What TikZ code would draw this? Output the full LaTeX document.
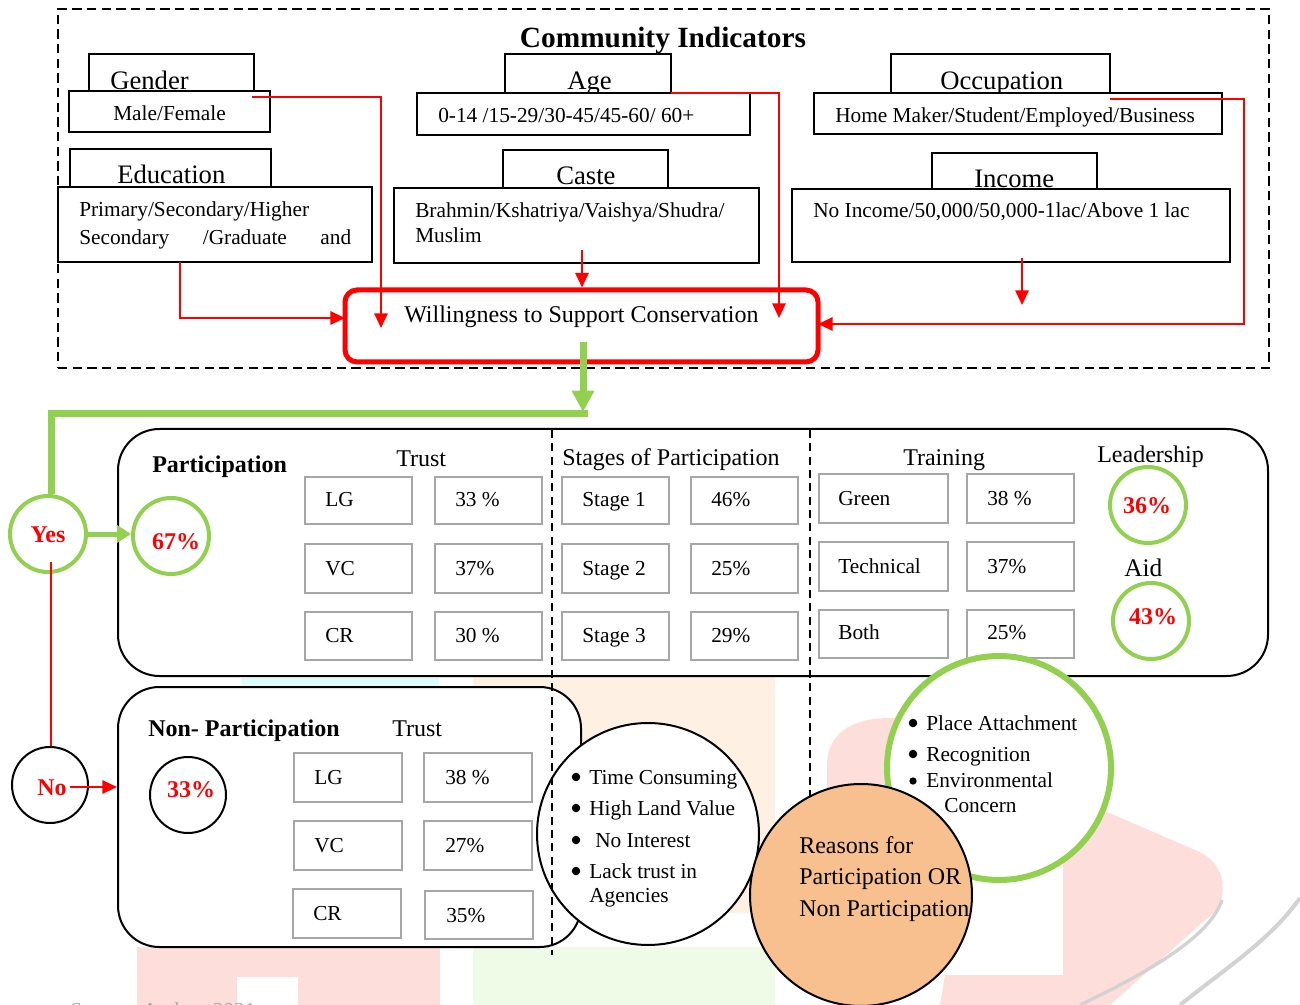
\documentclass[tikz,border=0pt]{standalone}
\usepackage{fontspec}
\setmainfont{Liberation Serif}
\usetikzlibrary{arrows.meta,fit}
\definecolor{lgreen}{HTML}{92D050}
\definecolor{boxgrey}{HTML}{A6A6A6}
\definecolor{orng}{HTML}{F8BF8F}
\definecolor{wmpink}{HTML}{FDDEDA}
\definecolor{wmpeach}{HTML}{FEF0E2}
\definecolor{wmgreen}{HTML}{EFFAE7}
\definecolor{wmcyan}{HTML}{DDFCFC}
\definecolor{wmgrey}{HTML}{D2D2D2}
\tikzset{
  fbox/.style={draw=black, line width=1.5pt, fill=white, inner sep=0pt},
  gbox/.style={draw=boxgrey, line width=1.8pt, fill=white, inner sep=0pt},
  panel/.style={draw=black, line width=1.5pt, fill=white, inner sep=0pt, rounded corners=31pt},
  txt/.style={inner sep=0pt, anchor=base west},
  ctxt/.style={inner sep=0pt, anchor=base},
  f16/.style={font=\fontsize{16}{19}\selectfont},
  f18/.style={font=\fontsize{18}{21}\selectfont},
  f20/.style={font=\fontsize{20}{24}\selectfont},
  bf18/.style={font=\bfseries\fontsize{18}{21}\selectfont},
  redbf/.style={font=\bfseries\fontsize{18}{21}\selectfont, text=red},
  redarrow/.style={draw=red, line width=1.5pt, -{Triangle[length=11pt,width=10pt]}},
  redline/.style={draw=red, line width=1.5pt},
  grline/.style={draw=lgreen, line width=5.25pt},
  grcirc/.style={circle, draw=lgreen, line width=3pt, fill=white, minimum size=57pt, inner sep=0pt},
  bkcirc/.style={circle, draw=black, line width=1.5pt, fill=white, minimum size=57pt, inner sep=0pt},
  divider/.style={draw=black, line width=1.3pt, dash pattern=on 6pt off 4pt},
  blt/.style={circle, fill=black, minimum size=6.4pt, inner sep=0pt},
}
\begin{document}
\begin{tikzpicture}[x=0.75pt,y=-0.75pt]
\useasboundingbox (0,0) rectangle (1300,1005);
\clip (0,0) rectangle (1300,1005);
% ---------- faint watermark ----------
\fill[wmcyan] (241,678) rectangle (439,700);
\fill[wmpeach] (473,677) rectangle (775,913);
\fill[wmpink] (137,947) rectangle (440,1005);
\fill[white] (237,977) rectangle (298,1005);
\fill[wmgreen] (473,947) rectangle (775,1005);
\fill[wmpink] (827,1005) -- (827,765) .. controls (827,735) and (850,718) .. (890,718) -- (955,718) -- (955,880) -- (900,880) -- cycle;
\fill[wmpink] (1063,840) -- (1107,812) -- (1195,850) .. controls (1228,862) and (1232,902) .. (1205,920) -- (1110,1005) -- (940,1005) -- (945,975) -- (1063,975) -- cycle;
\draw[wmgrey, line width=2.5pt] (1222,900) .. controls (1212,930) and (1170,962) .. (1080,1005);
\draw[wmgrey, line width=3pt] (1300,898) .. controls (1270,940) and (1230,965) .. (1180,1005);
\node[anchor=north west, inner sep=0pt, f16, text=gray!70] (src) at (70,1002) {Source: Author, 2021};

% ---------- community indicators ----------
\node[draw=black, line width=1.5pt, dash pattern=on 7pt off 4pt, inner sep=0pt, fit={(58,9) (1269,368)}] (outer) {};
\node[ctxt, font=\bfseries\fontsize{22}{26}\selectfont] (title) at (663,48) {Community Indicators};

\node[fbox, fit={(89,54) (254,92)}] (genh) {};
\node[txt, f20] (gent) at (110,90) {Gender};
\node[fbox, fit={(69,91) (270,132)}] (genv) {};
\node[txt, f16] (genvt) at (113,121) {Male/Female};

\node[fbox, fit={(70,149) (271,187)}] (eduh) {};
\node[txt, f20] (edut) at (117,184) {Education};
\node[fbox, fit={(58,187) (372,262)}] (eduv) {};
\node[txt, f16] (eduv1) at (79,217) {Primary/Secondary/Higher};
\node[txt, f16] (eduv2) at (79,245) {\hbox to 204pt{Secondary\hfill/Graduate\hfill and}};

\node[fbox, fit={(505,54) (671,93)}] (ageh) {};
\node[txt, f20] (aget) at (567,90) {Age};
\node[fbox, fit={(417,93) (750,135)}] (agev) {};
\node[txt, f16] (agevt) at (438,123) {0-14 /15-29/30-45/45-60/ 60+};

\node[fbox, fit={(503,150) (668,188)}] (casth) {};
\node[txt, f20] (castt) at (556,185) {Caste};
\node[fbox, fit={(394,188) (759,263)}] (castv) {};
\node[txt, f16] (castv1) at (415,218) {Brahmin/Kshatriya/Vaishya/Shudra/};
\node[txt, f16] (castv2) at (415,243) {Muslim};

\node[fbox, fit={(891,54) (1110,93)}] (occh) {};
\node[txt, f20] (occt) at (940,90) {Occupation};
\node[fbox, fit={(814,93) (1222,134)}] (occv) {};
\node[txt, f16] (occvt) at (835,123) {Home Maker/Student/Employed/Business};

\node[fbox, fit={(932,153) (1097,189)}] (inch) {};
\node[txt, f20] (inct) at (974,188) {Income};
\node[fbox, fit={(792,189) (1230,262)}] (incv) {};
\node[txt, f16] (incvt) at (813,218) {No Income/50,000/50,000-1lac/Above 1 lac};

\node[draw=red, line width=3.75pt, fill=white, rounded corners=9pt, inner sep=0pt, fit={(345,290) (818,362)}] (wsc) {};
\node[txt, f18] (wsct) at (404,323) {Willingness to Support Conservation};

% red connectors
\coordinate (gA) at (252,97);   \coordinate (gB) at (381,328);
\draw[redarrow] (gA) -| (gB);
\coordinate (eA) at (180,262);  \coordinate (eB) at (345,318);
\draw[redarrow] (eA) |- (eB);
\coordinate (cA) at (582,250);
\draw[redarrow] (cA) -- (cA |- wsc.north);
\coordinate (aA) at (671,93);   \coordinate (aB) at (779,318);
\draw[redarrow] (aA) -| (aB);
\coordinate (iA) at (1022,258); \coordinate (iB) at (1022,305);
\draw[redarrow] (iA) -- (iB);
\coordinate (oA) at (1110,99);  \coordinate (oB) at (1244,324); \coordinate (oC) at (818,324);
\draw[redarrow] (oA) -| (oB) -- (oC);

% green flow
\coordinate (gr1) at (583,342); \coordinate (gr2) at (583,412);
\coordinate (gr3) at (588,414); \coordinate (gr4) at (51,414);
\draw[grline, -{Triangle[length=16pt,width=16pt]}] (gr1) -- (gr2);

% ---------- participation panel ----------
\node[panel, fit={(118,429) (1268,676)}] (ppanel) {};
\node[panel, fit={(118,687) (581,947)}] (npanel) {};

\node[grcirc] (yes) at (48,534) {};
\draw[grline, line join=miter] (gr3) -- (gr4) -- (gr4 |- yes.north);
\node[ctxt, redbf] (yest) at (48,542) {Yes};
\node[grcirc] (p67) at (171,536) {};
\node[ctxt, redbf] (p67t) at (176,549) {67\%};
\draw[draw=lgreen, line width=3.75pt, -{Triangle[length=10.5pt,width=12.75pt]}] (yes.east) -- (yes.east -| p67.west);

\coordinate (yr) at (51,562);
\node[bkcirc] (no) at (50,785) {};
\draw[redline] (yr) -- (yr |- no.north);
\node[ctxt, redbf] (not) at (52,795) {No};
\coordinate (nA) at (70,787);
\draw[redarrow] (nA) -- (nA -| npanel.west);
\node[bkcirc] (n33) at (188,795) {};
\node[ctxt, redbf] (n33t) at (191,797) {33\%};

\node[txt, bf18] (partt) at (152,473) {Participation};
\node[txt, f18] (trust1) at (396,467) {Trust};
\node[txt, f18] (stagest) at (562,465) {Stages of Participation};
\node[txt, f18] (traint) at (903,465) {Training};
\node[txt, f18] (leadt) at (1097,463) {Leadership};
\node[txt, font=\fontsize{19}{22}\selectfont] (aidt) at (1124,576) {Aid};
\node[grcirc] (lead) at (1148,505) {};
\node[ctxt, redbf] (leadv) at (1147,513) {36\%};
\node[grcirc] (aid) at (1151,621) {};
\node[ctxt, redbf] (aidv) at (1153,624) {43\%};

% trust (participation)
\node[gbox, fit={(305,477) (412,524)}] (plg) {};   \node[txt, f16] (plgt) at (325,507) {LG};
\node[gbox, fit={(435,477) (542,524)}] (plgv) {};  \node[txt, f16] (plgvt) at (455,507) {33 \%};
\node[gbox, fit={(305,544) (412,593)}] (pvc) {};   \node[txt, f16] (pvct) at (325,575) {VC};
\node[gbox, fit={(435,544) (542,593)}] (pvcv) {};  \node[txt, f16] (pvcvt) at (455,575) {37\%};
\node[gbox, fit={(305,612) (412,660)}] (pcr) {};   \node[txt, f16] (pcrt) at (325,642) {CR};
\node[gbox, fit={(435,612) (542,660)}] (pcrv) {};  \node[txt, f16] (pcrvt) at (455,642) {30 \%};
% stages
\node[gbox, fit={(562,477) (669,524)}] (s1) {};   \node[txt, f16] (s1t) at (582,507) {Stage 1};
\node[gbox, fit={(691,477) (798,524)}] (s1v) {};  \node[txt, f16] (s1vt) at (711,507) {46\%};
\node[gbox, fit={(562,544) (669,593)}] (s2) {};   \node[txt, f16] (s2t) at (582,575) {Stage 2};
\node[gbox, fit={(691,544) (798,593)}] (s2v) {};  \node[txt, f16] (s2vt) at (711,575) {25\%};
\node[gbox, fit={(562,612) (669,660)}] (s3) {};   \node[txt, f16] (s3t) at (582,642) {Stage 3};
\node[gbox, fit={(691,612) (798,660)}] (s3v) {};  \node[txt, f16] (s3vt) at (711,642) {29\%};
% training
\node[gbox, fit={(819,474) (948,523)}] (tg) {};   \node[txt, f16] (tgt) at (838,505) {Green};
\node[gbox, fit={(967,474) (1074,523)}] (tgv) {}; \node[txt, f16] (tgvt) at (987,505) {38 \%};
\node[gbox, fit={(819,542) (948,591)}] (tt) {};   \node[txt, f16] (ttt) at (838,573) {Technical};
\node[gbox, fit={(967,542) (1074,591)}] (ttv) {}; \node[txt, f16] (ttvt) at (987,573) {37\%};
\node[gbox, fit={(819,610) (948,658)}] (tb) {};   \node[txt, f16] (tbt) at (838,639) {Both};
\node[gbox, fit={(967,610) (1074,658)}] (tbv) {}; \node[txt, f16] (tbvt) at (987,639) {25\%};

% ---------- non participation ----------
\node[txt, bf18] (nppt) at (148,736) {Non- Participation};
\node[txt, f18] (trust2) at (392,736) {Trust};
\node[gbox, fit={(294,753) (402,802)}] (nlg) {};   \node[txt, f16] (nlgt) at (314,784) {LG};
\node[gbox, fit={(424,753) (532,802)}] (nlgv) {};  \node[txt, f16] (nlgvt) at (445,784) {38 \%};
\node[gbox, fit={(294,821) (402,870)}] (nvc) {};   \node[txt, f16] (nvct) at (314,852) {VC};
\node[gbox, fit={(424,821) (532,870)}] (nvcv) {};  \node[txt, f16] (nvcvt) at (445,852) {27\%};
\node[gbox, fit={(293,889) (401,938)}] (ncr) {};   \node[txt, f16] (ncrt) at (313,920) {CR};
\node[gbox, fit={(425,891) (533,939)}] (ncrv) {};  \node[txt, f16] (ncrvt) at (446,922) {35\%};

% time consuming circle
\node[circle, draw=black, line width=1.5pt, fill=white, minimum size=166.5pt, inner sep=0pt] (tcirc) at (648,834) {};
\node[blt] (tb1) at (576,777) {}; \node[txt, f16] (tc1) at (589,784) {Time Consuming};
\node[blt] (tb2) at (576,808) {}; \node[txt, f16] (tc2) at (589,815) {High Land Value};
\node[blt] (tb3) at (576,840) {}; \node[txt, f16] (tc3) at (595,847) {No Interest};
\node[blt] (tb4) at (576,871) {}; \node[txt, f16] (tc4) at (589,878) {Lack trust in};
\node[txt, f16] (tc5) at (589,902) {Agencies};

% dashed dividers
\coordinate (d1a) at (552,430); \coordinate (d1b) at (552,955);
\coordinate (d2a) at (810,430); \coordinate (d2b) at (810,800);
\draw[divider] (d1a) -- (d1b);
\draw[divider] (d2a) -- (d2b);

% green reasons circle
\node[circle, draw=lgreen, line width=4.5pt, fill=white, minimum size=168pt, inner sep=0pt] (gcirc) at (999,768) {};
\node[blt] (gb1) at (913,723) {}; \node[txt, f16] (gc1) at (926,730) {Place Attachment};
\node[blt] (gb2) at (913,754) {}; \node[txt, f16] (gc2) at (926,761) {Recognition};
\node[blt, minimum size=5.5pt] (gb3) at (913,781) {}; \node[txt, f16] (gc3) at (926,787) {Environmental};
\node[txt, f16] (gc4) at (944,812) {Concern};

% orange circle
\node[circle, draw=black, line width=1.5pt, fill=orng, minimum size=166.5pt, inner sep=0pt] (ocirc) at (861,895) {};
\node[txt, f18] (oc1) at (799,853) {Reasons for};
\node[txt, f18] (oc2) at (799,884) {Participation OR};
\node[txt, f18] (oc3) at (799,916) {Non Participation};
\end{tikzpicture}
\end{document}
